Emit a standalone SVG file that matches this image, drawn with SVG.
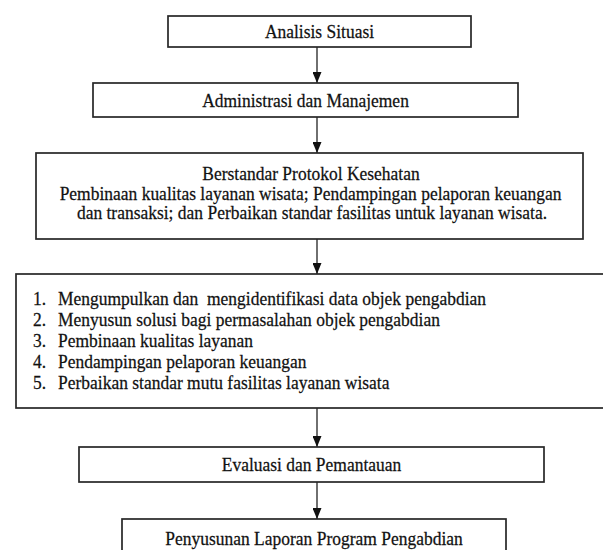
<svg xmlns="http://www.w3.org/2000/svg" width="603" height="550" viewBox="0 0 603 550">
  <style>
    .box { fill: #ffffff; stroke: #262626; stroke-width: 1.7; }
    .t { font-family: "Liberation Serif", "Times New Roman", serif; font-size: 19px; fill: #111111; stroke: #111111; stroke-width: 0.25; }
    .c { text-anchor: middle; }
    .edge { stroke: #222222; stroke-width: 1.3; fill: none; marker-end: url(#arr); }
  </style>
  <defs>
    <marker id="arr" markerWidth="11" markerHeight="9" refX="11" refY="4.5" orient="auto" markerUnits="userSpaceOnUse" viewBox="0 0 11 9">
      <path d="M0,0 L11,4.5 L0,9 Z" fill="#111111"/>
    </marker>
  </defs>
  <rect x="0" y="0" width="603" height="550" fill="#ffffff"/>

  <g id="connectors">
    <line class="edge" x1="317" y1="47" x2="317" y2="83"/>
    <line class="edge" x1="317" y1="117" x2="317" y2="153"/>
    <line class="edge" x1="317" y1="239" x2="317" y2="274"/>
    <line class="edge" x1="317" y1="408" x2="317" y2="447"/>
    <line class="edge" x1="317" y1="482" x2="317" y2="519"/>
  </g>

  <g id="node-analisis">
    <rect class="box" x="168" y="16" width="303" height="31"/>
    <text class="t c" transform="translate(319.5 37.5) scale(0.92 1)">Analisis Situasi</text>
  </g>

  <g id="node-administrasi">
    <rect class="box" x="93" y="83" width="425" height="34"/>
    <text class="t c" transform="translate(305.5 106.5) scale(0.92 1)">Administrasi dan Manajemen</text>
  </g>

  <g id="node-protokol">
    <rect class="box" x="36" y="153" width="547" height="86"/>
    <text class="t c" transform="translate(311 180) scale(0.92 1)">Berstandar Protokol Kesehatan</text>
    <text class="t c" transform="translate(310.5 199.5) scale(0.92 1)">Pembinaan kualitas layanan wisata; Pendampingan pelaporan keuangan</text>
    <text class="t c" transform="translate(312 219) scale(0.92 1)">dan transaksi; dan Perbaikan standar fasilitas untuk layanan wisata.</text>
  </g>

  <g id="node-kegiatan">
    <rect class="box" x="16" y="274" width="600" height="134"/>
    <text class="t" transform="translate(33 305) scale(0.92 1)">1.</text>
    <text class="t" transform="translate(58 305) scale(0.92 1)" xml:space="preserve">Mengumpulkan dan  mengidentifikasi data objek pengabdian</text>
    <text class="t" transform="translate(33 326) scale(0.92 1)">2.</text>
    <text class="t" transform="translate(58 326) scale(0.92 1)">Menyusun solusi bagi permasalahan objek pengabdian</text>
    <text class="t" transform="translate(33 347) scale(0.92 1)">3.</text>
    <text class="t" transform="translate(58 347) scale(0.92 1)">Pembinaan kualitas layanan</text>
    <text class="t" transform="translate(33 368) scale(0.92 1)">4.</text>
    <text class="t" transform="translate(58 368) scale(0.92 1)">Pendampingan pelaporan keuangan</text>
    <text class="t" transform="translate(33 389) scale(0.92 1)">5.</text>
    <text class="t" transform="translate(58 389) scale(0.92 1)">Perbaikan standar mutu fasilitas layanan wisata</text>
  </g>

  <g id="node-evaluasi">
    <rect class="box" x="79" y="447" width="465" height="35"/>
    <text class="t c" transform="translate(311.5 471) scale(0.92 1)">Evaluasi dan Pemantauan</text>
  </g>

  <g id="node-laporan">
    <rect class="box" x="122" y="519" width="384" height="45"/>
    <text class="t c" transform="translate(314 544.5) scale(0.92 1)">Penyusunan Laporan Program Pengabdian</text>
  </g>
</svg>
